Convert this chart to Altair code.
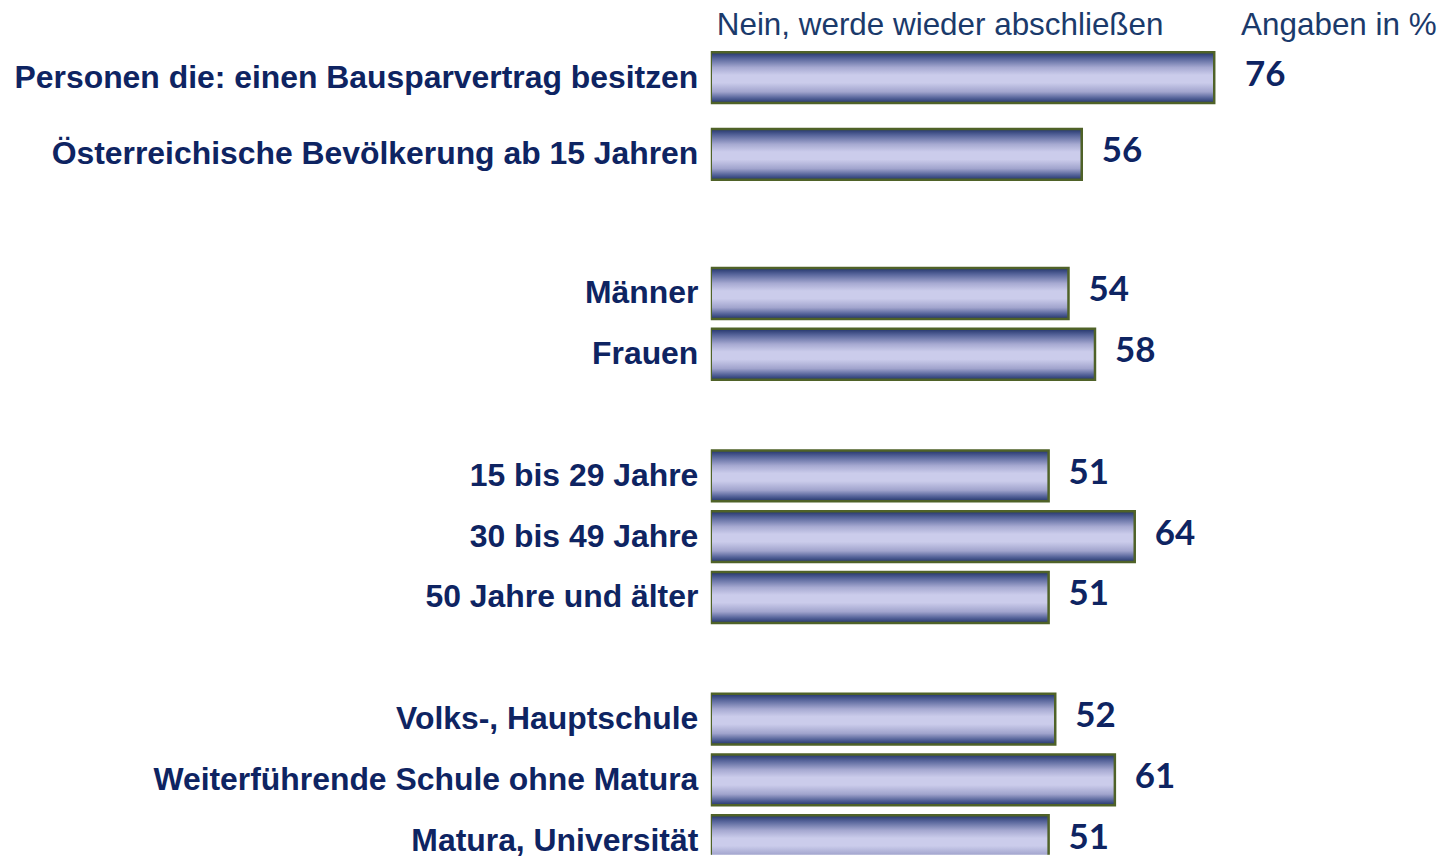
import altair as alt
import pandas as pd

# ---- data ----
top_labels = ["Personen die: einen Bausparvertrag besitzen",
              "Österreichische Bevölkerung ab 15 Jahren"]
top_values = [76, 56]

bottom_labels = ["Männer", "Frauen",
                 "15 bis 29 Jahre", "30 bis 49 Jahre", "50 Jahre und älter",
                 "Volks-, Hauptschule", "Weiterführende Schule ohne Matura",
                 "Matura, Universität"]
bottom_values = [54, 58, 51, 64, 51, 52, 61, 51]
bottom_order = ["Männer", "Frauen", " ",
                "15 bis 29 Jahre", "30 bis 49 Jahre", "50 Jahre und älter", "  ",
                "Volks-, Hauptschule", "Weiterführende Schule ohne Matura",
                "Matura, Universität"]

header_texts = ["Nein, werde wieder abschließen", "Angaben in %"]

# ---- styles ----
NAVY = "#0e2462"
HEAD = "#1b3a6b"
LABEL_FONT = "Liberation Sans"
VALUE_FONT = "Lato"
PLOT_W = 664.5

grad = alt.Gradient(
    gradient="linear", x1=0, y1=0, x2=0, y2=1,
    stops=[
        alt.GradientStop(color="#22346a", offset=0.0),
        alt.GradientStop(color="#56649a", offset=0.12),
        alt.GradientStop(color="#a6a9d1", offset=0.30),
        alt.GradientStop(color="#cbcceb", offset=0.45),
        alt.GradientStop(color="#cbcceb", offset=0.60),
        alt.GradientStop(color="#a1a4cd", offset=0.78),
        alt.GradientStop(color="#56649a", offset=0.90),
        alt.GradientStop(color="#22346a", offset=1.0),
    ],
)

x_enc = alt.X("value:Q", scale=alt.Scale(domain=[0, 100]), axis=None)


def y_enc(order, rng=None):
    sc = dict(domain=order, paddingInner=0, paddingOuter=0)
    if rng is not None:
        sc["range"] = rng
    return alt.Y("label:N", sort=None, scale=alt.Scale(**sc),
                 axis=alt.Axis(title=None, ticks=False, domain=False,
                               labelPadding=13, labelLimit=2000,
                               labelFont=LABEL_FONT, labelFontSize=32,
                               labelFontWeight="bold", labelColor=NAVY,
                               labelAlign="right", labelBaseline="middle"))


def panel(labels, values, order, height, rng=None, first_dx=None):
    df = pd.DataFrame({"label": labels, "value": values})
    base = alt.Chart(df).encode(x=x_enc, y=y_enc(order, rng))
    bars = base.mark_bar(fill=grad, stroke="#4f6228", strokeWidth=2.5,
                         size=51, clip=True)
    txt_kw = dict(align="left", baseline="middle", dy=-3, font=VALUE_FONT,
                  fontSize=35, fontWeight="bold", color=NAVY)
    if first_dx is None:
        texts = base.mark_text(dx=20, **txt_kw).encode(text="value:Q")
        layers = [bars, texts]
    else:
        t1 = base.transform_filter(alt.datum.label == labels[0]).mark_text(
            dx=first_dx, **txt_kw).encode(text="value:Q")
        t2 = base.transform_filter(alt.datum.label != labels[0]).mark_text(
            dx=20, **txt_kw).encode(text="value:Q")
        layers = [bars, t1, t2]
    return alt.layer(*layers).properties(width=PLOT_W, height=height)


hdf = pd.DataFrame({"t": header_texts, "px": [6, 532]})
header = alt.Chart(hdf).mark_text(
    align="left", baseline="middle", font=LABEL_FONT, fontSize=31.5,
    color=HEAD).encode(text="t:N", x=alt.X("px:Q", scale=None, axis=None),
                       y=alt.value(-13))

top = alt.layer(panel(top_labels, top_values, top_labels, 154, first_dx=31),
                header)
bottom = panel(bottom_labels, bottom_values, bottom_order, 593.5,
               rng=[0, 610])

chart = alt.vconcat(top, bottom, spacing=70.5, bounds="flush").properties(
    padding={"left": 5, "top": 1, "right": 0, "bottom": 0}
).configure_view(stroke=None)

chart.save("out.html", embed_options={"renderer": "svg", "actions": False})
